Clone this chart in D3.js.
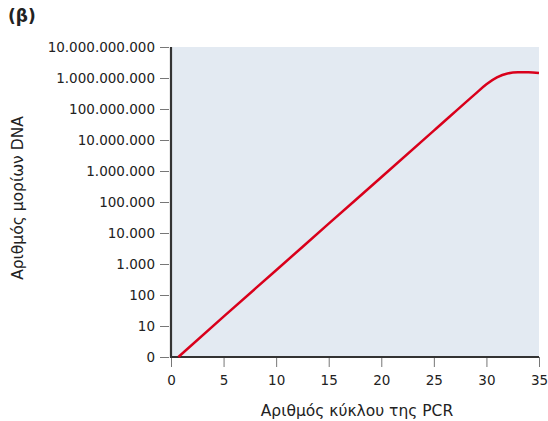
<!DOCTYPE html>
<html>
<head>
<meta charset="utf-8">
<script src="https://cdn.jsdelivr.net/npm/d3@7"></script>
<style>
  body { margin: 0; background: #fff; }
  text { font-family: 'DejaVu Sans', Verdana, sans-serif; fill: #222; }
</style>
</head>
<body>
<div id="chart"></div>
<script>
// PCR cycle vs number of DNA molecules (log scale)
const cycles = [0.7, 5, 10, 15, 20, 25, 29, 30, 31, 32, 33, 34, 35];
const molecules = [1, 20, 630, 20000, 630000, 20000000, 320000000, 630000000,
                   1050000000, 1400000000, 1520000000, 1520000000, 1450000000];
const yTicks = [1, 10, 100, 1000, 1e4, 1e5, 1e6, 1e7, 1e8, 1e9, 1e10];
const xTicks = [0, 5, 10, 15, 20, 25, 30, 35];

const width = 548, height = 421;
const margin = { top: 47, right: 9, bottom: 64, left: 171 };
const innerW = width - margin.left - margin.right;
const innerH = height - margin.top - margin.bottom;

const svg = d3.select('#chart').append('svg')
    .attr('width', width)
    .attr('height', height);

const x = d3.scaleLinear().domain([0, 35]).range([0, innerW]);
const y = d3.scaleLog().domain([1, 1e10]).range([innerH, 0]);

const g = svg.append('g').attr('transform', `translate(${margin.left},${margin.top})`);

// plot background
g.append('rect')
    .attr('width', innerW)
    .attr('height', innerH)
    .attr('fill', '#e3eaf2');

// tick label format: 1 shows as 0, thousands separated by dots
const fmt = d => d === 1 ? '0' : d3.format(',')(d).replace(/,/g, '.');

// y axis
const yAxis = g.append('g')
    .call(d3.axisLeft(y).tickValues(yTicks).tickFormat(fmt).tickSize(9).tickPadding(5));
yAxis.select('.domain').remove();
yAxis.selectAll('line').attr('stroke', '#777').attr('transform', 'translate(-2,0)');
yAxis.selectAll('text').attr('font-size', '13.5px').attr('fill', '#222').attr('dx', -2)
    .attr('font-family', "'DejaVu Sans', sans-serif");

// x axis
const xAxis = g.append('g')
    .attr('transform', `translate(0,${innerH})`)
    .call(d3.axisBottom(x).tickValues(xTicks).tickSize(10).tickPadding(6));
xAxis.select('.domain').remove();
xAxis.selectAll('line').attr('stroke', '#777');
xAxis.selectAll('text').attr('font-size', '13.5px').attr('fill', '#222').attr('dy', '0.9em')
    .attr('font-family', "'DejaVu Sans', sans-serif");

// axis lines
g.append('line').attr('x1', 0).attr('x2', 0).attr('y1', 0).attr('y2', innerH + 1)
    .attr('stroke', '#333').attr('stroke-width', 2.2);
g.append('line').attr('x1', -1).attr('x2', innerW).attr('y1', innerH).attr('y2', innerH)
    .attr('stroke', '#333').attr('stroke-width', 2.2);

// the curve
const pts = cycles.map((c, i) => [c, molecules[i]]);
const line = d3.line()
    .x(d => x(d[0]))
    .y(d => y(d[1]))
    .curve(d3.curveMonotoneX);

g.append('path')
    .datum(pts)
    .attr('fill', 'none')
    .attr('stroke', '#d9001b')
    .attr('stroke-width', 2.5)
    .attr('d', line);

// axis titles
svg.append('text')
    .attr('x', 357)
    .attr('y', 416)
    .attr('text-anchor', 'middle')
    .attr('font-size', '15.5px')
    .text('Αριθμός κύκλου της PCR');

svg.append('text')
    .attr('transform', 'translate(23,198) rotate(-90)')
    .attr('text-anchor', 'middle')
    .attr('font-size', '15.5px')
    .text('Αριθμός μορίων DNA');

// panel label
svg.append('text')
    .attr('x', 8)
    .attr('y', 22)
    .attr('font-size', '17px')
    .attr('font-weight', 'bold')
    .text('(β)');
</script>
</body>
</html>
